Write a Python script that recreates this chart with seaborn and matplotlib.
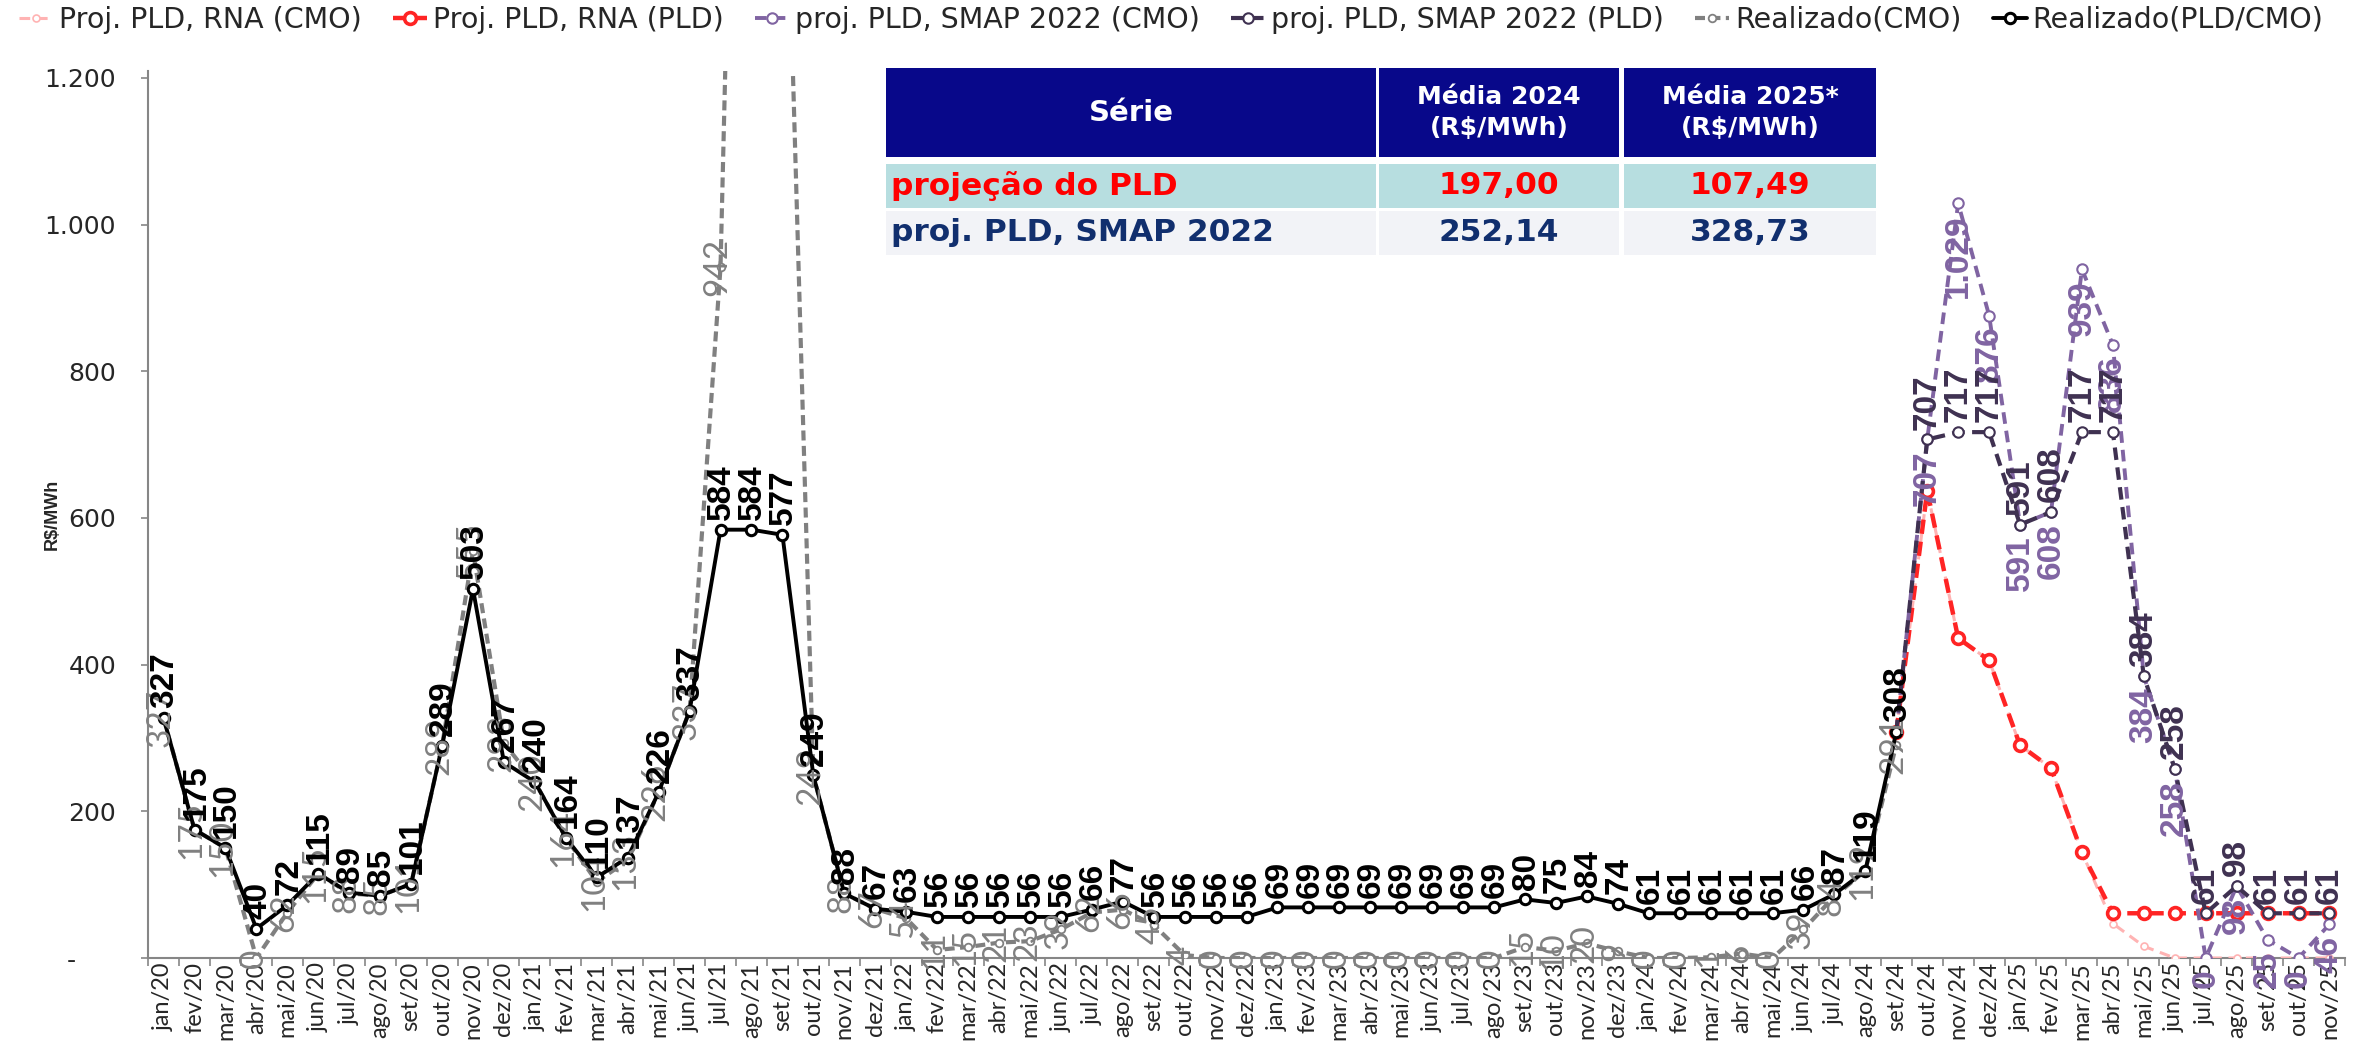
import matplotlib
matplotlib.use('Agg')
import matplotlib.pyplot as plt
from matplotlib.patches import Rectangle
from matplotlib.ticker import FuncFormatter
import seaborn as sns
import pandas as pd
import numpy as np

# month axis: jan/20 .. nov/25
MONTHS = ['jan', 'fev', 'mar', 'abr', 'mai', 'jun', 'jul', 'ago', 'set', 'out', 'nov', 'dez']
YEARS = ['20', '21', '22', '23', '24', '25']
month_labels = [m + '/' + y for y in YEARS for m in MONTHS][:71]

# realized values, jan/20 .. set/24
realizado_pld = [327, 175, 150, 40, 72, 115, 89, 85, 101, 289, 503, 267,
                 240, 164, 110, 137, 226, 337, 584, 584, 577, 249, 88, 67,
                 63, 56, 56, 56, 56, 56, 66, 77, 56, 56, 56, 56,
                 69, 69, 69, 69, 69, 69, 69, 69, 80, 75, 84, 74,
                 61, 61, 61, 61, 61, 66, 87, 119, 308]
realizado_cmo = [327, 175, 150, 0, 62, 115, 88, 85, 101, 289, 555, 293,
                 240, 164, 104, 133, 226, 337, 942, 2700, 1700, 249, 88, 67,
                 54, 11, 15, 21, 23, 39, 62, 66, 45, 4, 0, 0,
                 0, 0, 0, 0, 0, 0, 0, 0, 15, 10, 20, 9,
                 0, 0, 1, 6, 0, 39, 84, 119, 291]

# projections, set/24 .. nov/25
PROJ_START = 56
rna_cmo = [308, 637, 436, 406, 290, 259, 144, 47, 16, 0, 0, 0, 0, 0, 0]
rna_pld = [308, 637, 436, 406, 290, 259, 144, 61, 61, 61, 61, 61, 61, 61, 61]
smap_cmo = [308, 707, 1029, 876, 591, 608, 939, 836, 384, 258, 0, 98, 25, 0, 46]
smap_pld = [308, 707, 717, 717, 591, 608, 717, 717, 384, 258, 61, 98, 61, 61, 61]

# summary table
tbl_header = ['Série', 'Média 2024\n(R$/MWh)', 'Média 2025*\n(R$/MWh)']
tbl_series = ['projeção do PLD', 'proj. PLD, SMAP 2022']
tbl_media_2024 = ['197,00', '252,14']
tbl_media_2025 = ['107,49', '328,73']

sns.set_theme(style='white')
plt.rcParams['font.family'] = ['DejaVu Sans']
LATO = ['Lato', 'DejaVu Sans']
BOLD = ['Liberation Sans', 'DejaVu Sans']
GRAY_AX = '#868686'


def fmt(v):
    return '{:,.0f}'.format(v).replace(',', '.')


def draw(ax, x, y, label, color, lw, dashes, ms, mew, z):
    df = pd.DataFrame({'x': x, 'y': y})
    ls = '-' if dashes is None else (0, dashes)
    sns.lineplot(data=df, x='x', y='y', ax=ax, color=color, linewidth=lw, linestyle=ls,
                 marker='o', markersize=ms, markeredgewidth=mew, markerfacecolor='white',
                 markeredgecolor=color, label=label, legend=False, estimator=None,
                 errorbar=None, sort=False, zorder=z)


def put_labels(ax, x, y, color, family, weight, size, dy, va, z, dx=0):
    for xi, yi in zip(x, y):
        ax.annotate(fmt(yi), (xi, yi), xytext=(dx, dy), textcoords='offset points',
                    rotation=90, ha='center', va=va, color=color, fontweight=weight,
                    fontsize=size, family=family, zorder=z)


fig = plt.figure(figsize=(23.66, 10.42), dpi=100)
ax = fig.add_axes([0.0626, 0.0806, 0.9285, 0.8517])

x_real = list(range(len(realizado_pld)))
x_proj = list(range(PROJ_START, PROJ_START + len(rna_pld)))

draw(ax, x_proj, rna_cmo, 'Proj. PLD, RNA (CMO)', '#FFB3B3', 2.2, (3.5, 2.2), 5, 1.2, 3)
draw(ax, x_proj, rna_pld, 'Proj. PLD, RNA (PLD)', '#FF2424', 3.2, (3.2, 1.8), 8.5, 2.6, 4)
draw(ax, x_proj, smap_cmo, 'proj. PLD, SMAP 2022 (CMO)', '#8064A2', 2.8, (3.0, 1.8), 7.5, 1.5, 5)
draw(ax, x_proj, smap_pld, 'proj. PLD, SMAP 2022 (PLD)', '#3F3151', 3.0, (3.0, 1.8), 7.5, 1.5, 6)
draw(ax, x_real, realizado_cmo, 'Realizado(CMO)', '#808080', 3.0, (2.4, 1.3), 5.5, 1.3, 7)
draw(ax, x_real, realizado_pld, 'Realizado(PLD/CMO)', '#000000', 2.8, None, 7.5, 2.2, 8)

# data labels
put_labels(ax, x_real, realizado_cmo, '#808080', LATO, 'normal', 24, 0, 'center', 9, dx=-2)
put_labels(ax, x_proj[1:], smap_cmo[1:], '#8064A2', BOLD, 'bold', 24, -8, 'top', 10)
put_labels(ax, x_proj[1:], smap_pld[1:], '#3F3151', BOLD, 'bold', 24, 7, 'bottom', 11)
put_labels(ax, x_real, realizado_pld, '#000000', BOLD, 'bold', 24, 7, 'bottom', 12, dx=1)

ax.set_xlim(-0.5, len(month_labels) - 0.5)
ax.set_ylim(0, 1210)
ax.set_xlabel('')
ax.set_ylabel('R$/MWh', fontsize=13, fontweight='bold', family=BOLD)
ax.yaxis.set_label_coords(-0.0396, 0.5)

ax.set_xticks(range(len(month_labels)))
ax.set_xticklabels(month_labels, rotation=90, fontsize=17, family=LATO)
ax.set_xticks(np.arange(-0.5, len(month_labels), 1), minor=True)
ax.tick_params(axis='x', which='major', length=0, pad=3)
ax.tick_params(axis='x', which='minor', length=6, width=1.2, color=GRAY_AX, bottom=True)

ax.set_yticks(range(0, 1201, 200))
ax.yaxis.set_major_formatter(FuncFormatter(lambda v, p: '-     ' if v == 0 else fmt(v)))
ax.tick_params(axis='y', which='major', length=5, width=1.2, color=GRAY_AX, labelsize=18,
               pad=18, left=True)

for side in ['top', 'right']:
    ax.spines[side].set_visible(False)
for side in ['left', 'bottom']:
    ax.spines[side].set_color(GRAY_AX)
    ax.spines[side].set_linewidth(1.5)

handles, labels = ax.get_legend_handles_labels()
fig.legend(handles, labels, loc='center', bbox_to_anchor=(0.495, 0.981),
           ncol=6, frameon=False, fontsize=20.5, handlelength=1.2,
           handletextpad=0.2, borderaxespad=0, columnspacing=1.1)

# summary table drawn in figure coordinates
col_x = [(0.3745, 0.5816), (0.5828, 0.6843), (0.6864, 0.7929)]
row_y = [(0.8493, 0.9347), (0.8004, 0.8426), (0.7553, 0.7975)]
row_bg = ['#08088A', '#B7DEE0', '#F2F3F7']
row_fg = ['white', '#FF0000', '#112F6E']

for r, (y0, y1) in enumerate(row_y):
    if r == 0:
        cells = tbl_header
    else:
        cells = [tbl_series[r - 1], tbl_media_2024[r - 1], tbl_media_2025[r - 1]]
    for c, (x0, x1) in enumerate(col_x):
        fig.add_artist(Rectangle((x0, y0), x1 - x0, y1 - y0, transform=fig.transFigure,
                                 facecolor=row_bg[r], edgecolor='none', zorder=20))
        if r > 0 and c == 0:
            tx, ha = x0 + 0.002, 'left'
        else:
            tx, ha = (x0 + x1) / 2, 'center'
        if r == 0:
            size = 21 if c == 0 else 18
        else:
            size = 22.5
        fig.text(tx, (y0 + y1) / 2, cells[c], ha=ha, va='center', color=row_fg[r],
                 fontsize=size, fontweight='bold', linespacing=1.4, zorder=21)

fig.savefig('out.png', dpi=100)
